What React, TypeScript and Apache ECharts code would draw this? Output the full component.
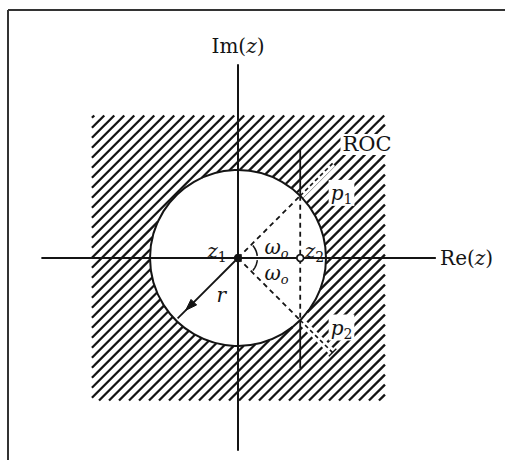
import { useEffect, useRef } from "react";
import * as echarts from "echarts";

const WIDTH = 505;
const HEIGHT = 460;

// Pixel placement of the z-plane origin and how many pixels one unit spans.
const ORIGIN_PX = [238, 258];
const PX_PER_UNIT = 88;

// Extents of the Re / Im axes (in units of the circle radius).
const reAxisRange = [-2.226, 2.24];
const imAxisRange = [-2.182, 2.193];

// Circle |z| = r that bounds the region of convergence.
const circleCenter = [0, 0];
const circleRadius = 1;

// Shaded ROC window (outside the circle).
const rocX = [-1.66, 1.67];
const rocY = [-1.62, 1.62];

// Points in the plane.
const z1Point = [0, 0];
const z2Point = [0.707, 0];
const p1Point = [0.707, 0.707];
const p2Point = [0.707, -0.707];

// Angle of the poles, degrees.
const omegaDeg = [45, -45];

// Vertical construction line through z2 / p1 / p2.
const chordTop = 1.227;
const chordBottom = -1.25;

// Dashed extensions beyond the poles (radius reached).
const poleExtension = 1.52;

// Radius arrow r.
const radiusArrowEnd = 0.97;
const radiusArrowTip = 0.84;

// Hatch spacing (horizontal offset between successive / strokes).
const HATCH_STEP = 0.1136;

const FONT = "'DejaVu Serif', 'Liberation Serif', serif";
const INK = "#141414";

type Seg = [number, number, number, number];

function hatchSegments(): Seg[] {
  const segs: Seg[] = [];
  const [x0, x1] = rocX;
  const [y0, y1] = rocY;
  const cMin = y0 - x1;
  const cMax = y1 - x0;
  const R = circleRadius;
  for (let c = cMin + HATCH_STEP * 0.6; c <= cMax; c += HATCH_STEP) {
    const a = Math.max(x0, y0 - c);
    const b = Math.min(x1, y1 - c);
    if (b - a <= 0.005) continue;
    const disc = 2 * R * R - c * c;
    if (disc > 0) {
      const s = Math.sqrt(disc);
      const xa = (-c - s) / 2;
      const xb = (-c + s) / 2;
      if (xa > a) {
        const e = Math.min(b, xa);
        segs.push([a, a + c, e, e + c]);
      }
      if (xb < b) {
        const st = Math.max(a, xb);
        segs.push([st, st + c, b, b + c]);
      }
    } else {
      segs.push([a, a + c, b, b + c]);
    }
  }
  return segs;
}

const polar = (r: number, deg: number) => {
  const t = (deg * Math.PI) / 180;
  return [r * Math.cos(t), r * Math.sin(t)];
};

const richDefs = {
  i: { fontFamily: FONT, fontSize: 20, fontStyle: "italic", lineHeight: 26, color: INK },
  n: { fontFamily: FONT, fontSize: 20, lineHeight: 26, color: INK },
  s: { fontFamily: FONT, fontSize: 14, lineHeight: 14, verticalAlign: "bottom", color: INK },
  si: { fontFamily: FONT, fontSize: 13, fontStyle: "italic", lineHeight: 14, verticalAlign: "bottom", color: INK },
};

function renderDiagram(_params: any, api: any) {
  const P = (p: number[]) => api.coord(p);
  const unit = api.size([1, 0])[0];
  const children: any[] = [];

  // hatching
  for (const s of hatchSegments()) {
    const a = P([s[0], s[1]]);
    const b = P([s[2], s[3]]);
    children.push({
      type: "line",
      shape: { x1: a[0], y1: a[1], x2: b[0], y2: b[1] },
      style: { stroke: INK, lineWidth: 2.3, lineCap: "butt" },
    });
  }

  // white channels around the pole extensions, then dashed rays
  omegaDeg.forEach((deg) => {
    const a = P(polar(circleRadius, deg));
    const b = P(polar(poleExtension, deg));
    children.push({
      type: "line",
      shape: { x1: a[0], y1: a[1], x2: b[0], y2: b[1] },
      style: { stroke: "#fff", lineWidth: 7 },
    });
    children.push({
      type: "line",
      shape: { x1: a[0], y1: a[1], x2: b[0], y2: b[1] },
      style: { stroke: INK, lineWidth: 1.6, lineDash: [4, 3] },
    });
  });
  // tick closing the lower extension
  {
    const e = polar(poleExtension, omegaDeg[1]);
    const n = polar(0.06, omegaDeg[1] + 90);
    const a = P([e[0] + n[0], e[1] + n[1]]);
    const b = P([e[0] - n[0], e[1] - n[1]]);
    children.push({
      type: "line",
      shape: { x1: a[0], y1: a[1], x2: b[0], y2: b[1] },
      style: { stroke: INK, lineWidth: 1.4 },
    });
  }

  // circle
  const c = P(circleCenter);
  children.push({
    type: "circle",
    shape: { cx: c[0], cy: c[1], r: circleRadius * unit },
    style: { fill: "none", stroke: INK, lineWidth: 2 },
  });

  // chord through z2: solid outside the circle, dashed inside
  const top = P([z2Point[0], chordTop]);
  const pp1 = P(p1Point);
  const pp2 = P(p2Point);
  const bot = P([z2Point[0], chordBottom]);
  children.push({
    type: "line",
    shape: { x1: top[0], y1: top[1], x2: pp1[0], y2: pp1[1] },
    style: { stroke: INK, lineWidth: 1.8 },
  });
  children.push({
    type: "line",
    shape: { x1: pp2[0], y1: pp2[1], x2: bot[0], y2: bot[1] },
    style: { stroke: INK, lineWidth: 1.8 },
  });
  children.push({
    type: "line",
    shape: { x1: pp1[0], y1: pp1[1], x2: pp2[0], y2: pp2[1] },
    style: { stroke: INK, lineWidth: 1.8, lineDash: [5, 4] },
  });

  // dashed radii to the poles
  const o = P(z1Point);
  [pp1, pp2].forEach((p) => {
    children.push({
      type: "line",
      shape: { x1: o[0], y1: o[1], x2: p[0], y2: p[1] },
      style: { stroke: INK, lineWidth: 1.8, lineDash: [5, 4] },
    });
  });

  // angle arcs for omega_o
  const arc = (d0: number, d1: number) => {
    const pts: number[][] = [];
    for (let k = 0; k <= 12; k++) {
      const d = d0 + ((d1 - d0) * k) / 12;
      pts.push(P(polar(0.22, d)));
    }
    return {
      type: "polyline",
      shape: { points: pts },
      style: { stroke: INK, lineWidth: 1.6, fill: "none" },
    };
  };
  children.push(arc(6, 40));
  children.push(arc(-6, -40));

  // radius arrow r
  const rEnd = P(polar(radiusArrowEnd, 225));
  children.push({
    type: "line",
    shape: { x1: o[0], y1: o[1], x2: rEnd[0], y2: rEnd[1] },
    style: { stroke: INK, lineWidth: 1.8 },
  });
  {
    const tip = polar(radiusArrowTip, 225);
    const base = polar(radiusArrowTip - 0.13, 225);
    const n = polar(0.045, 135);
    children.push({
      type: "polygon",
      shape: {
        points: [
          P(tip),
          P([base[0] + n[0], base[1] + n[1]]),
          P([base[0] - n[0], base[1] - n[1]]),
        ],
      },
      style: { fill: INK, stroke: INK, lineWidth: 1 },
    });
  }

  // z1 (filled) and z2 (open) markers
  children.push({
    type: "circle",
    shape: { cx: o[0], cy: o[1], r: 4.2 },
    style: { fill: INK },
  });
  const z2 = P(z2Point);
  children.push({
    type: "circle",
    shape: { cx: z2[0], cy: z2[1], r: 3.4 },
    style: { fill: "#fff", stroke: INK, lineWidth: 1.8 },
  });

  // labels
  const label = (
    pos: number[],
    text: string,
    align: string,
    bg?: string,
    size = 20,
    italic = false
  ) => {
    const p = P(pos);
    children.push({
      type: "text",
      x: p[0],
      y: p[1],
      style: {
        text,
        rich: richDefs,
        fontFamily: FONT,
        fontSize: size,
        fontStyle: italic ? "italic" : "normal",
        fill: INK,
        align,
        verticalAlign: "middle",
        backgroundColor: bg,
        padding: bg ? [0, 2, 0, 2] : 0,
      },
    });
  };
  label([1.466, 1.29], "ROC", "center", "#fff", 21);
  label([1.03, 0.74], "{i|p}{s|1}", "left", "#fff");
  label([1.03, -0.79], "{i|p}{s|2}", "left", "#fff");
  label([-0.24, 0.085], "{i|z}{s|1}", "center");
  label([0.87, 0.085], "{i|z}{s|2}", "center");
  label([0.30, 0.13], "{i|ω}{si|o}", "left");
  label([0.30, -0.175], "{i|ω}{si|o}", "left");
  label([-0.19, -0.42], "r", "center", undefined, 20, true);

  return { type: "group", children };
}

export default function App() {
  const ref = useRef<HTMLDivElement>(null);
  useEffect(() => {
    if (!ref.current) return;
    const chart = echarts.init(ref.current, undefined, { renderer: "svg" });
    const left = ORIGIN_PX[0] + reAxisRange[0] * PX_PER_UNIT;
    const right = WIDTH - (ORIGIN_PX[0] + reAxisRange[1] * PX_PER_UNIT);
    const top = ORIGIN_PX[1] - imAxisRange[1] * PX_PER_UNIT;
    const bottom = HEIGHT - (ORIGIN_PX[1] - imAxisRange[0] * PX_PER_UNIT);
    const axisName = {
      fontFamily: FONT,
      fontSize: 20,
      color: INK,
      rich: {
        i: { fontFamily: FONT, fontSize: 20, fontStyle: "italic", color: INK },
      },
    };
    chart.setOption({
      animation: false,
      backgroundColor: "#fff",
      grid: { left, right, top, bottom, containLabel: false },
      xAxis: {
        type: "value",
        min: reAxisRange[0],
        max: reAxisRange[1],
        name: "Re({i|z})",
        nameLocation: "end",
        nameGap: 5,
        nameTextStyle: axisName,
        axisLine: { show: true, onZero: true, lineStyle: { color: INK, width: 2 } },
        axisTick: { show: false },
        axisLabel: { show: false },
        splitLine: { show: false },
      },
      yAxis: {
        type: "value",
        min: imAxisRange[0],
        max: imAxisRange[1],
        name: "Im({i|z})",
        nameLocation: "end",
        nameGap: 9,
        nameTextStyle: axisName,
        axisLine: { show: true, onZero: true, lineStyle: { color: INK, width: 2 } },
        axisTick: { show: false },
        axisLabel: { show: false },
        splitLine: { show: false },
      },
      graphic: [
        {
          type: "line",
          shape: { x1: 8, y1: 10, x2: WIDTH, y2: 10 },
          style: { stroke: "#333", lineWidth: 2 },
        },
        {
          type: "line",
          shape: { x1: 8, y1: 10, x2: 8, y2: HEIGHT },
          style: { stroke: "#333", lineWidth: 2 },
        },
      ],
      series: [
        {
          type: "custom",
          coordinateSystem: "cartesian2d",
          clip: false,
          silent: true,
          data: [z1Point],
          renderItem: renderDiagram,
        },
      ],
    });
    return () => chart.dispose();
  }, []);
  return (
    <div
      ref={ref}
      style={{ position: "fixed", left: 0, top: 0, width: WIDTH, height: HEIGHT }}
    />
  );
}
